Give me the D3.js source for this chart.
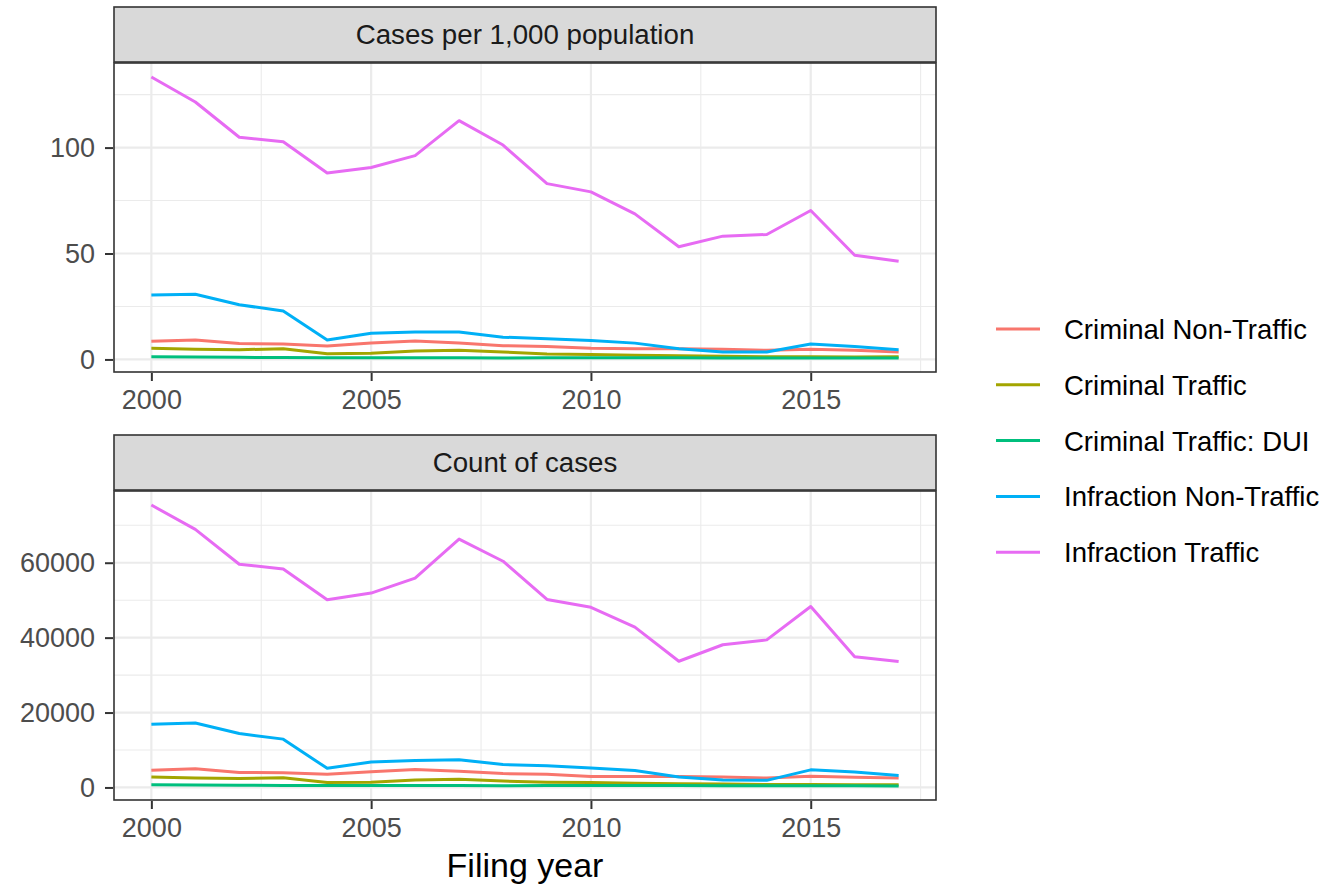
<!DOCTYPE html>
<html>
<head>
<meta charset="utf-8">
<script src="https://cdn.jsdelivr.net/npm/d3@7"></script>
<style>
  body { margin: 0; background: #ffffff; }
  text { font-family: "Liberation Sans", Arial, Helvetica, sans-serif; }
</style>
</head>
<body>
<script>
const years = [2000, 2001, 2002, 2003, 2004, 2005, 2006, 2007, 2008,
    2009, 2010, 2011, 2012, 2013, 2014, 2015, 2016, 2017];

const categories = [
    "Criminal Non-Traffic",
    "Criminal Traffic",
    "Criminal Traffic: DUI",
    "Infraction Non-Traffic",
    "Infraction Traffic",
];

const colors = ["#F8766D", "#A3A500", "#00BF7D", "#00B0F6", "#E76BF3"];

// cases per 1,000 population
const rateCriminalNonTraffic = [8.6, 9.2, 7.5, 7.3, 6.4, 7.8, 8.7, 7.8, 6.5, 6.1, 5.3, 5.1, 5.0, 4.8, 4.3, 4.8, 4.3, 3.5];
const rateCriminalTraffic = [5.3, 4.8, 4.6, 5.0, 2.7, 2.9, 4.0, 4.3, 3.5, 2.6, 2.3, 2.0, 1.7, 1.5, 1.3, 1.3, 1.2, 1.3];
const rateDUI = [1.3, 1.1, 1.0, 0.9, 0.8, 0.8, 0.8, 0.8, 0.7, 0.8, 0.8, 0.8, 0.8, 0.7, 0.7, 0.7, 0.7, 0.7];
const rateInfractionNonTraffic = [30.4, 30.8, 25.8, 22.9, 9.2, 12.4, 12.9, 13.0, 10.5, 9.8, 8.9, 7.7, 5.0, 3.5, 3.5, 7.3, 6.1, 4.6];
const rateInfractionTraffic = [133.3, 121.5, 104.9, 102.8, 88.0, 90.6, 96.2, 112.7, 101.2, 83.0, 79.1, 68.7, 53.2, 58.2, 59.0, 70.3, 49.2, 46.4];

// count of cases
const countCriminalNonTraffic = [4600, 5000, 4000, 3900, 3500, 4200, 4800, 4300, 3700, 3500, 2900, 2900, 2900, 2800, 2500, 3000, 2700, 2500];
const countCriminalTraffic = [2800, 2500, 2400, 2600, 1300, 1400, 2000, 2200, 1700, 1400, 1300, 1100, 1000, 900, 800, 800, 700, 700];
const countDUI = [700, 650, 600, 550, 500, 500, 500, 500, 450, 500, 500, 500, 500, 450, 450, 450, 450, 400];
const countInfractionNonTraffic = [16900, 17200, 14400, 12900, 5100, 6800, 7200, 7400, 6100, 5800, 5200, 4500, 2800, 2000, 1900, 4700, 4100, 3200];
const countInfractionTraffic = [75400, 68900, 59600, 58300, 50100, 51900, 55900, 66300, 60400, 50200, 48100, 42800, 33700, 38100, 39400, 48300, 34900, 33600];

const xTicks = [2000, 2005, 2010, 2015];
const rateTicks = [0, 50, 100];
const countTicks = [0, 20000, 40000, 60000];

const panels = [
    {
        title: "Cases per 1,000 population",
        series: [rateCriminalNonTraffic, rateCriminalTraffic, rateDUI, rateInfractionNonTraffic, rateInfractionTraffic],
        ticks: rateTicks,
    },
    {
        title: "Count of cases",
        series: [countCriminalNonTraffic, countCriminalTraffic, countDUI, countInfractionNonTraffic, countInfractionTraffic],
        ticks: countTicks,
    },
];

const width = 1326;
const height = 886;
const left = 114;
const right = 936;
const stripHeight = 55;
const panelHeight = 309;
const panelTops = [63, 491];

const svg = d3.select("body")
    .append("svg")
    .attr("width", width)
    .attr("height", height);

// ggplot-like 5% expansion
const expand = ([a, b]) => {
    const pad = (b - a) * 0.05;
    return [a - pad, b + pad];
};

const x = d3.scaleLinear()
    .domain(expand(d3.extent(years)))
    .range([left, right]);

const midpoints = (ticks) => {
    const step = ticks[1] - ticks[0];
    const out = [ticks[0] - step / 2];
    ticks.forEach(t => out.push(t + step / 2));
    return out;
};

panels.forEach((panel, p) => {
    const top = panelTops[p];
    const bottom = top + panelHeight;
    const all = panel.series.flat();
    const y = d3.scaleLinear()
        .domain(expand(d3.extent(all)))
        .range([bottom, top]);

    const g = svg.append("g");

    g.append("rect")
        .attr("x", left).attr("y", top)
        .attr("width", right - left).attr("height", panelHeight)
        .attr("fill", "#ffffff");

    // minor grid
    const xMinor = midpoints(xTicks).filter(v => x(v) > left && x(v) < right);
    const yMinor = midpoints(panel.ticks).filter(v => y(v) > top && y(v) < bottom);
    g.selectAll(".xminor").data(xMinor).enter().append("line")
        .attr("x1", d => x(d)).attr("x2", d => x(d))
        .attr("y1", top).attr("y2", bottom)
        .attr("stroke", "#EBEBEB").attr("stroke-width", 1.1);
    g.selectAll(".yminor").data(yMinor).enter().append("line")
        .attr("x1", left).attr("x2", right)
        .attr("y1", d => y(d)).attr("y2", d => y(d))
        .attr("stroke", "#EBEBEB").attr("stroke-width", 1.1);

    // major grid
    g.selectAll(".xmajor").data(xTicks).enter().append("line")
        .attr("x1", d => x(d)).attr("x2", d => x(d))
        .attr("y1", top).attr("y2", bottom)
        .attr("stroke", "#EBEBEB").attr("stroke-width", 2.2);
    g.selectAll(".ymajor").data(panel.ticks).enter().append("line")
        .attr("x1", left).attr("x2", right)
        .attr("y1", d => y(d)).attr("y2", d => y(d))
        .attr("stroke", "#EBEBEB").attr("stroke-width", 2.2);

    const clipId = "clip" + p;
    svg.append("clipPath").attr("id", clipId)
        .append("rect")
        .attr("x", left).attr("y", top)
        .attr("width", right - left).attr("height", panelHeight);

    const line = d3.line()
        .x((d, i) => x(years[i]))
        .y(d => y(d));

    g.append("g")
        .attr("clip-path", "url(#" + clipId + ")")
        .selectAll("path")
        .data(panel.series)
        .enter()
        .append("path")
        .attr("d", d => line(d))
        .attr("fill", "none")
        .attr("stroke", (d, i) => colors[i])
        .attr("stroke-width", 3)
        .attr("stroke-linejoin", "round")
        .attr("stroke-linecap", "butt");

    // panel border
    g.append("rect")
        .attr("x", left).attr("y", top)
        .attr("width", right - left).attr("height", panelHeight)
        .attr("fill", "none")
        .attr("stroke", "#333333")
        .attr("stroke-width", 1.6);

    // strip
    const stripTop = top - stripHeight - 1;
    g.append("rect")
        .attr("x", left).attr("y", stripTop)
        .attr("width", right - left).attr("height", stripHeight)
        .attr("fill", "#D9D9D9")
        .attr("stroke", "#333333")
        .attr("stroke-width", 1.6);
    g.append("text")
        .attr("x", (left + right) / 2)
        .attr("y", stripTop + stripHeight / 2 + 9.8)
        .attr("text-anchor", "middle")
        .style("font-size", "27.7px")
        .style("fill", "#1A1A1A")
        .text(panel.title);

    // axes
    const yAxis = d3.axisLeft(y)
        .tickValues(panel.ticks)
        .tickSize(9)
        .tickPadding(10)
        .tickFormat(d3.format("d"));
    const ya = g.append("g")
        .attr("transform", "translate(" + left + ",0)")
        .call(yAxis);
    const xAxis = d3.axisBottom(x)
        .tickValues(xTicks)
        .tickSize(9)
        .tickPadding(9)
        .tickFormat(d3.format("d"));
    const xa = g.append("g")
        .attr("transform", "translate(0," + bottom + ")")
        .call(xAxis);

    [ya, xa].forEach(a => {
        a.select(".domain").remove();
        a.selectAll(".tick line")
            .attr("stroke", "#333333")
            .attr("stroke-width", 2);
        a.selectAll(".tick text")
            .style("font-size", "27px")
            .style("font-family", "'Liberation Sans', Arial, sans-serif")
            .attr("fill", "#4D4D4D");
    });
    ya.selectAll(".tick line").attr("x1", -1);
    xa.selectAll(".tick line").attr("y1", 1);
});

// x axis title
svg.append("text")
    .attr("x", (left + right) / 2)
    .attr("y", 877)
    .attr("text-anchor", "middle")
    .style("font-size", "34px")
    .style("fill", "#000000")
    .text("Filing year");

// legend
const legend = svg.append("g")
    .attr("transform", "translate(996, 329)");

const items = legend.selectAll("g")
    .data(categories)
    .enter()
    .append("g")
    .attr("transform", (d, i) => "translate(0," + i * 55.8 + ")");

items.append("line")
    .attr("x1", 0).attr("x2", 44)
    .attr("y1", 0).attr("y2", 0)
    .attr("stroke", (d, i) => colors[i])
    .attr("stroke-width", 3);

items.append("text")
    .attr("x", 68)
    .attr("y", 10)
    .style("font-size", "27.5px")
    .style("fill", "#000000")
    .text(d => d);
</script>
</body>
</html>
